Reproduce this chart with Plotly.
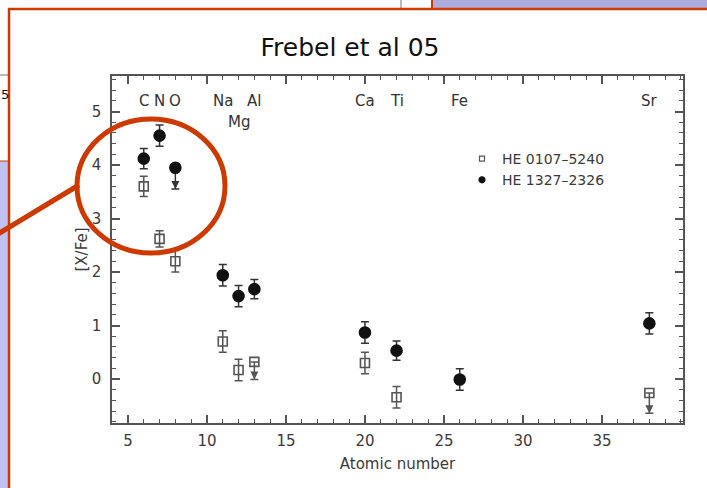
import numpy as np
import plotly.graph_objects as go

# ---- abundance data: [X/Fe] versus atomic number -------------------------
# element labels shown along the top of the panel
elem_names = ["C", "N", "O", "Na", "Mg", "Al", "Ca", "Ti", "Fe", "Sr"]
elem_Z = [6, 7, 8, 11, 12, 13, 20, 22, 26, 38]
elem_label_y = [5.2, 5.2, 5.2, 5.2, 4.8, 5.2, 5.2, 5.2, 5.2, 5.2]

# HE 0107-5240 (open squares)
Z_A = [6, 7, 8, 11, 12, 13, 20, 22, 38]
xfe_A = [3.60, 2.62, 2.20, 0.70, 0.17, 0.32, 0.30, -0.34, -0.26]
err_A = [0.19, 0.15, 0.20, 0.20, 0.20, 0.0, 0.20, 0.20, 0.0]
ulim_A = [0, 0, 0, 0, 0, 0.33, 0, 0, 0.38]   # arrow length of upper limits

# HE 1327-2326 (filled circles)
Z_B = [6, 7, 8, 11, 12, 13, 20, 22, 26, 38]
xfe_B = [4.12, 4.55, 3.95, 1.94, 1.55, 1.68, 0.87, 0.53, -0.01, 1.04]
err_B = [0.19, 0.20, 0.0, 0.20, 0.20, 0.18, 0.20, 0.18, 0.20, 0.20]
ulim_B = [0, 0, 0.40, 0, 0, 0, 0, 0, 0, 0]

x_ticks = [5, 10, 15, 20, 25, 30, 35]
y_ticks = [0, 1, 2, 3, 4, 5]

FONT = "DejaVu Sans"
INK = "#3a3a3a"
RED = "#cc3a00"

# page geometry of the plotting box (px)
W, H = 707, 488
L, R, T, B = 112, 683, 76, 423


def fx(px):
    return (px - L) / (R - L)


def fy(py):
    return (B - py) / (B - T)


def star_traces(name, Z, val, err, ulim, symbol, size, color, ecolor,
                key_symbol, key_size):
    Z = np.asarray(Z, float)
    val = np.asarray(val, float)
    err = np.asarray(err, float)
    ulim = np.asarray(ulim, float)
    minus = np.where(ulim > 0, ulim, err)
    pts = go.Scatter(
        x=Z, y=val, mode="markers", name=name, showlegend=False,
        legendgroup=name,
        marker=dict(symbol=symbol, size=size, color=color,
                    line=dict(color=color, width=1.6)),
        error_y=dict(type="data", symmetric=False, array=err,
                     arrayminus=minus, color=ecolor, thickness=1.5, width=4),
    )
    lim = ulim > 0
    arrows = go.Scatter(
        x=Z[lim], y=val[lim] - ulim[lim], mode="markers", showlegend=False,
        hoverinfo="skip", legendgroup=name,
        marker=dict(symbol="arrow-down", size=8, color=ecolor,
                    line=dict(width=0)),
    )
    # small legend key
    key = go.Scatter(
        x=[None], y=[None], mode="markers", name=name, legendgroup=name,
        marker=dict(symbol=key_symbol, size=key_size, color=color,
                    line=dict(color=color, width=1.2)),
    )
    return [pts, arrows, key]


fig = go.Figure()
for tr in star_traces("HE 0107–5240", Z_A, xfe_A, err_A, ulim_A,
                      "square-open", 9, "#555555", "#555555",
                      "square-open", 5):
    fig.add_trace(tr)
for tr in star_traces("HE 1327–2326", Z_B, xfe_B, err_B, ulim_B,
                      "circle", 11, "#111111", "#333333",
                      "circle", 6):
    fig.add_trace(tr)

# element names
annotations = []
for name, z, yv in zip(elem_names, elem_Z, elem_label_y):
    annotations.append(dict(x=z, y=yv, xref="x", yref="y", text=name,
                            showarrow=False,
                            font=dict(family=FONT, size=15, color="#333333")))

# fragment of the neighbouring slide text at the far left
annotations.append(dict(x=fx(0), y=fy(95), xref="paper", yref="paper",
                        xanchor="left", yanchor="middle", text="5",
                        showarrow=False, borderpad=0,
                        font=dict(family=FONT, size=13, color="#111111")))

shapes = [
    # slide panels around the frame
    dict(type="rect", xref="paper", yref="paper", x0=fx(432), x1=fx(710),
         y0=fy(8), y1=fy(-2), fillcolor="#acacde", line=dict(width=0),
         layer="above"),
    dict(type="line", xref="paper", yref="paper", x0=fx(432), x1=fx(432),
         y0=fy(9), y1=fy(-2), line=dict(color=RED, width=2), layer="above"),
    dict(type="line", xref="paper", yref="paper", x0=fx(401), x1=fx(401),
         y0=fy(9), y1=fy(-2), line=dict(color="#777777", width=1),
         layer="above"),
    dict(type="rect", xref="paper", yref="paper", x0=fx(-2), x1=fx(8),
         y0=fy(490), y1=fy(161), fillcolor="#c2c2f2", line=dict(width=0),
         layer="above"),
    dict(type="line", xref="paper", yref="paper", x0=fx(-2), x1=fx(8),
         y0=fy(161), y1=fy(161), line=dict(color=RED, width=1),
         layer="above"),
    dict(type="line", xref="paper", yref="paper", x0=fx(-2), x1=fx(8),
         y0=fy(75), y1=fy(75), line=dict(color="#777777", width=1),
         layer="above"),
    # frame of the figure panel
    dict(type="line", xref="paper", yref="paper", x0=fx(8), x1=fx(710),
         y0=fy(9), y1=fy(9), line=dict(color=RED, width=2.5), layer="above"),
    dict(type="line", xref="paper", yref="paper", x0=fx(9), x1=fx(9),
         y0=fy(8), y1=fy(490), line=dict(color=RED, width=2.5),
         layer="above"),
    # highlight of the C, N, O group
    dict(type="circle", xref="paper", yref="paper", x0=fx(77), x1=fx(225),
         y0=fy(253), y1=fy(119), line=dict(color=RED, width=5),
         layer="above"),
    dict(type="line", xref="paper", yref="paper", x0=fx(-2), x1=fx(79),
         y0=fy(234), y1=fy(185), line=dict(color=RED, width=5),
         layer="above"),
]

axis_common = dict(
    showline=True, linecolor="#555555", linewidth=1.5, mirror="ticks",
    ticks="inside", tickcolor="#555555", tickwidth=1.5, ticklen=8,
    showgrid=False, zeroline=False,
    tickfont=dict(family=FONT, size=15, color=INK),
)

fig.update_layout(
    width=W, height=H,
    margin=dict(l=L, r=W - R, t=T, b=H - B, autoexpand=False),
    paper_bgcolor="white", plot_bgcolor="white",
    title=dict(text="Frebel et al 05", x=350 / W, xref="container",
               y=1 - 47 / H, yref="container", xanchor="center",
               yanchor="middle",
               font=dict(family="Comic Sans MS, " + FONT, size=25,
                         color="#111111")),
    xaxis=dict(range=[3.99, 40.13], tickvals=x_ticks,
               minor=dict(dtick=1, ticklen=4, ticks="inside",
                          tickcolor="#555555", tickwidth=1.2),
               ticklabelstandoff=3,
               title=dict(text="Atomic number", standoff=10,
                          font=dict(family=FONT, size=15, color=INK)),
               **axis_common),
    yaxis=dict(range=[-0.822, 5.664], tickvals=y_ticks,
               minor=dict(dtick=0.2, ticklen=4, ticks="inside",
                          tickcolor="#555555", tickwidth=1.2),
               ticklabelstandoff=6,
               title=dict(text="[X/Fe]", standoff=0,
                          font=dict(family=FONT, size=15, color=INK)),
               **axis_common),
    showlegend=True,
    legend=dict(x=fx(462), y=fy(143), xanchor="left", yanchor="top",
                bgcolor="rgba(0,0,0,0)", itemwidth=30, tracegroupgap=0,
                font=dict(family=FONT, size=14, color=INK)),
    annotations=annotations,
    shapes=shapes,
)

fig.write_html("out.html")
